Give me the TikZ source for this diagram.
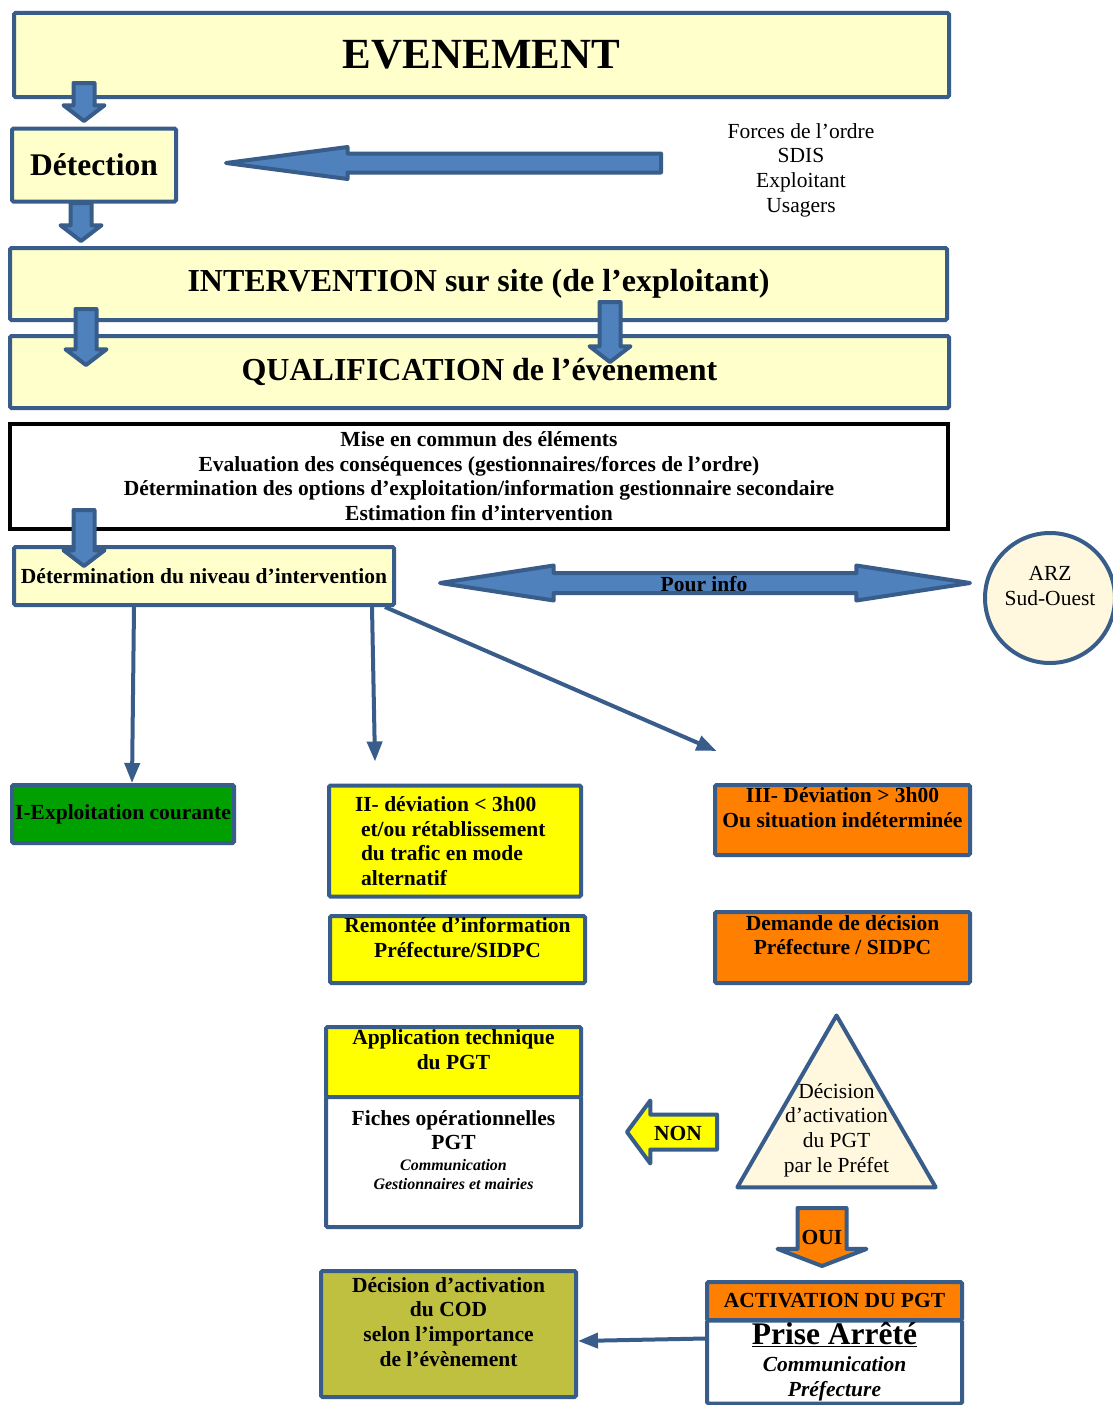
\documentclass[tikz,border=0pt]{standalone}
\usepackage{fontspec}
\setmainfont{Liberation Serif}
\usepackage{xcolor}
\usepackage{tikz}
\usetikzlibrary{shapes.geometric, shapes.arrows, arrows.meta, positioning, calc}

\definecolor{bordblue}{RGB}{56,93,138}
\definecolor{arrblue}{RGB}{79,129,189}
\definecolor{paleyel}{RGB}{255,255,204}
\definecolor{cream}{RGB}{255,248,222}
\definecolor{boxgreen}{RGB}{0,160,0}
\definecolor{boxyellow}{RGB}{255,255,0}
\definecolor{boxorange}{RGB}{255,128,0}
\definecolor{boxolive}{RGB}{191,191,64}
\newcommand\petit{\itshape\fontsize{16}{18}\selectfont}

\begin{document}
\begin{tikzpicture}[x=1pt, y=-1pt,
    box/.style={draw=bordblue, line width=4pt, rounded corners=1.5pt, align=center, inner sep=0pt, font=\bfseries\fontsize{21.5}{24.6}\selectfont},
    blkarrow/.style={single arrow, draw=bordblue, fill=arrblue, line width=4pt, line join=round, inner xsep=0pt, inner ysep=8.5pt, outer sep=0pt, single arrow head extend=10pt, single arrow tip angle=105, minimum width=0pt, anchor=tip},
    conn/.style={draw=bordblue, line width=4pt, -{Triangle[length=20pt, width=15pt]}},
    txt/.style={align=center, inner sep=0pt, font=\fontsize{21.5}{24.7}\selectfont}
]
    \fill[white] (0,0) rectangle (1112,1405);
    \useasboundingbox (0,0) rectangle (1112,1405);

    % top chain
    \node[box, fill=paleyel, minimum width=935pt, minimum height=84pt, font=\bfseries\fontsize{43}{48}\selectfont] (evt) at (481.5,55) {EVENEMENT};
    \node[box, fill=paleyel, minimum width=164pt, minimum height=73pt, font=\bfseries\fontsize{31.5}{36}\selectfont] (detect) at (94,165) {Détection};
    \node[txt] (forces) at (801,170) {Forces de l’ordre\\SDIS\\Exploitant\\Usagers};
    \node[box, fill=paleyel, minimum width=937pt, minimum height=72pt, font=\bfseries\fontsize{32}{36}\selectfont] (interv) at (478.5,284) {INTERVENTION sur site (de l’exploitant)};
    \node[box, fill=paleyel, minimum width=939pt, minimum height=72pt, font=\bfseries\fontsize{32}{36}\selectfont] (qualif) at (479.5,372) {QUALIFICATION de l’évènement};
    \node[box, draw=black, fill=white, rounded corners=0pt, minimum width=938pt, minimum height=105pt] (mise) at (479,476) {Mise en commun des éléments\\Evaluation des conséquences (gestionnaires/forces de l’ordre)\\Détermination des options d’exploitation/information gestionnaire secondaire\\Estimation fin d’intervention};
    \node[box, fill=paleyel, minimum width=380pt, minimum height=58pt] (niveau) at (204,576) {Détermination du niveau d’intervention};
    \node[circle, draw=bordblue, line width=4pt, fill=cream, minimum size=130pt, txt] (arz) at (1050,598) {ARZ\\Sud-Ouest\\\mbox{}};

    % levels
    \node[box, fill=boxgreen, minimum width=222pt, minimum height=58pt] (exploit) at (123,814) {I-Exploitation courante};
    \node[box, fill=boxyellow, minimum width=252pt, minimum height=111pt, text width=200pt, align=flush left] (dev2) at (455,841) {II- déviation < 3h00\\\hspace*{6pt}et/ou rétablissement\\\hspace*{6pt}du trafic en mode\\\hspace*{6pt}alternatif};
    \node[box, fill=boxyellow, minimum width=255pt, minimum height=67pt] (remont) at (457.5,949.5) {Remontée d’information\\Préfecture/SIDPC\\\mbox{}};
    \node[box, fill=boxorange, minimum width=255pt, minimum height=70pt] (dev3) at (842.5,820) {III- Déviation > 3h00\\Ou situation indéterminée\\\mbox{}};
    \node[box, fill=boxorange, minimum width=255pt, minimum height=71pt] (demande) at (842.5,947.5) {Demande de décision\\Préfecture / SIDPC\\\mbox{}};

    % PGT
    \node[box, fill=boxyellow, minimum width=255pt, minimum height=70pt] (appli) at (453.5,1062) {Application technique\\du PGT\\\mbox{}};
    \node[box, fill=white, minimum width=255pt, minimum height=130pt] (fiches) at (453.5,1162) {Fiches opérationnelles\\PGT\\[-3.5pt]{\petit Communication}\\[-6.5pt]{\petit Gestionnaires et mairies}\\\mbox{}};
    \node[regular polygon, regular polygon sides=3, draw=bordblue, line width=4pt, line join=round, fill=cream, minimum size=229pt, inner sep=0pt] (tri) at (836.5,1130) {};
    \node[txt] (dectxt) at (tri.center) {Décision\\d’activation\\du PGT\\par le Préfet};
    \node[blkarrow, rotate=180, fill=boxyellow, inner ysep=15.5pt, single arrow head extend=14pt, single arrow tip angle=107, minimum height=90pt] (non) at (627,1132) {};
    \node[font=\bfseries\fontsize{21.5}{24}\selectfont, inner sep=0pt] (nontxt) at (678,1133) {NON};
    \node[blkarrow, rotate=-90, fill=boxorange, inner ysep=22.5pt, single arrow head extend=20pt, single arrow tip angle=138, minimum height=58pt] (oui) at (822,1266) {};
    \node[font=\bfseries\fontsize{21.5}{24}\selectfont, inner sep=0pt] (ouitxt) at (822,1237) {OUI};
    \node[box, fill=boxorange, minimum width=255pt, minimum height=38pt] (activ) at (834.5,1301) {ACTIVATION DU PGT};
    \node[box, fill=white, minimum width=255pt, minimum height=83pt, font=\bfseries\itshape\fontsize{21.5}{25}\selectfont] (prise) at (834.5,1362) {{\upshape\fontsize{31.5}{36}\selectfont\underline{Prise Arrêté}}\\[2pt]Communication\\Préfecture};
    \node[box, fill=boxolive, minimum width=255pt, minimum height=126pt] (cod) at (448.5,1334) {Décision d’activation\\du COD\\selon l’importance\\de l’évènement\\\mbox{}};

    % block arrows
    \node[blkarrow, rotate=-90, minimum height=38pt] (a1) at (84,121) {};
    \node[blkarrow, rotate=-90, minimum height=38pt] (a2) at (81,241) {};
    \node[blkarrow, rotate=-90, minimum height=56pt] (a3) at (86,365) {};
    \node[blkarrow, rotate=-90, minimum height=60pt] (a4) at (610,362) {};
    \node[blkarrow, rotate=-90, minimum height=56pt] (a5) at (84,566) {};
    \node[blkarrow, rotate=180, inner ysep=7.5pt, single arrow head extend=6.5pt, single arrow tip angle=15, minimum height=435pt] (signal) at (226,163) {};
    \node[double arrow, draw=bordblue, fill=arrblue, line width=4pt, line join=round, inner xsep=0pt, inner ysep=8pt, outer sep=0pt, double arrow head extend=7.5pt, double arrow tip angle=17.5, minimum height=530pt, minimum width=0pt] (info) at (705,583) {};
    \node[font=\bfseries\fontsize{21.5}{24}\selectfont, inner sep=0pt] (infotxt) at (704,584) {Pour info};

    % links
    \draw[conn] ([xshift=-70pt]niveau.south) -- ([xshift=9pt]exploit.north);
    \draw[conn] ([xshift=168pt]niveau.south) -- ([xshift=-80pt, yshift=22pt]dev2.north);
    \draw[conn] ([xshift=-11pt]niveau.south east) -- ([xshift=-126pt, yshift=32pt]dev3.north);
    \draw[conn] ([yshift=23.5pt]prise.west) -- ([yshift=-7pt]cod.east);
\end{tikzpicture}
\end{document}
